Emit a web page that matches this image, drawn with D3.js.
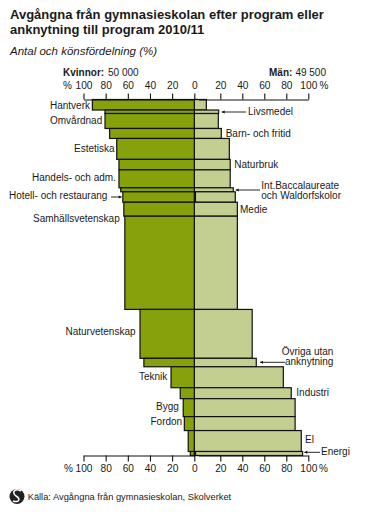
<!DOCTYPE html>
<html>
<head>
<meta charset="utf-8">
<script src="https://cdn.jsdelivr.net/npm/d3@7"></script>
<style>
  body { margin: 0; background: #fff; }
  svg { display: block; }
  text { font-family: "Liberation Sans", Arial, sans-serif; fill: #1a1a1a; }
</style>
</head>
<body>
<svg width="367" height="515"></svg>
<script>
var programs = ["Hantverk", "Livsmedel", "Omvårdnad", "Barn- och fritid", "Estetiska", "Naturbruk", "Handels- och adm.", "Int.Baccalaureate och Waldorfskolor", "Hotell- och restaurang", "Medie", "Samhällsvetenskap", "Naturvetenskap", "Övriga utan anknytning", "Teknik", "Industri", "Bygg", "Fordon", "El", "Energi"];
var counts = [2950, 980, 4190, 2800, 5870, 2930, 5030, 1120, 2930, 3910, 26130, 13700, 2370, 5870, 3070, 5030, 3910, 5870, 1120];
var women = [92, 80.6, 80.6, 76.4, 70, 68, 68, 66.4, 64.5, 63.6, 62.7, 49, 45.5, 21, 12.7, 10, 9, 5.5, 3.6];
var men = [7.3, 18.5, 18.2, 20.9, 28.2, 29, 29, 31.8, 33.6, 35.5, 35.5, 49, 52.7, 77.3, 84.5, 88, 88, 93.6, 94.8];
var tickLabels = [0, 20, 40, 60, 80, 100];

var svg = d3.select("svg");
var green = "#86a10c";
var lightGreen = "#c3cf90";
var ink = "#111";

var xLeft = d3.scaleLinear().domain([0, 100]).range([194.3, 83.5]);
var xRight = d3.scaleLinear().domain([0, 100]).range([198.3, 308.3]);
var yScale = d3.scaleLinear().domain([0, d3.sum(counts)]).range([99.5, 455.5]);

var rows = [];
var running = 0;
programs.forEach(function (p, i) {
  rows.push({ name: p, start: running, end: running + counts[i], w: women[i], m: men[i] });
  running += counts[i];
});

draw();

function draw() {
  title();
  bars();
  axes();
  labels();
  source();
}

function title() {
  svg.append("text").attr("x", 10).attr("y", 18.5).attr("font-size", 13).attr("font-weight", "bold").text("Avgångna från gymnasieskolan efter program eller");
  svg.append("text").attr("x", 10).attr("y", 34).attr("font-size", 13).attr("font-weight", "bold").text("anknytning till program 2010/11");
  svg.append("text").attr("x", 10).attr("y", 55).attr("font-size", 11.5).attr("font-style", "italic").text("Antal och könsfördelning (%)");
}

function bars() {
  svg.selectAll(".man").data(rows).enter().append("rect")
    .attr("class", "man")
    .attr("x", xLeft(0))
    .attr("y", function (d) { return yScale(d.start); })
    .attr("width", function (d) { return xRight(d.m) - xLeft(0); })
    .attr("height", function (d) { return yScale(d.end) - yScale(d.start); })
    .attr("fill", lightGreen).attr("stroke", ink).attr("stroke-width", 1.2);

  svg.selectAll(".woman").data(rows).enter().append("rect")
    .attr("class", "woman")
    .attr("x", function (d) { return xLeft(d.w); })
    .attr("y", function (d) { return yScale(d.start); })
    .attr("width", function (d) { return xLeft(0) - xLeft(d.w); })
    .attr("height", function (d) { return yScale(d.end) - yScale(d.start); })
    .attr("fill", green).attr("stroke", ink).attr("stroke-width", 1.2);

  // these two rows have a heavier centre line in the original
  var heavy = rows.filter(function (d) { return d.name == "Hotell- och restaurang" || d.name == "Energi"; });
  svg.selectAll(".heavy").data(heavy).enter().append("line")
    .attr("class", "heavy")
    .attr("x1", xLeft(0) + 1).attr("x2", xLeft(0) + 1)
    .attr("y1", function (d) { return yScale(d.start); })
    .attr("y2", function (d) { return yScale(d.end); })
    .attr("stroke", ink).attr("stroke-width", 1.5);
}

function axes() {
  var rightTicks = tickLabels.slice(1);
  addAxis(d3.axisTop(xLeft), tickLabels, 99.5, 89);
  addAxis(d3.axisTop(xRight), rightTicks, 99.5, 89);
  addAxis(d3.axisBottom(xLeft), tickLabels, 455.5, 472);
  addAxis(d3.axisBottom(xRight), rightTicks, 455.5, 472);

  function addAxis(axis, values, y, textY) {
    var g = svg.append("g").attr("transform", "translate(0," + y + ")")
      .call(axis.tickValues(values).tickSize(6).tickSizeOuter(0));
    g.selectAll("path.domain").attr("stroke", ink).attr("stroke-width", 1.2);
    g.selectAll("line").attr("stroke", ink).attr("stroke-width", 1.1);
    g.selectAll("text").attr("font-size", 10.2)
      .attr("y", textY - y).attr("dy", 0);
  }
  [99.5, 455.5].forEach(function (y) {
    svg.append("line").attr("x1", xLeft(0)).attr("x2", xRight(0)).attr("y1", y).attr("y2", y).attr("stroke", ink).attr("stroke-width", 1.2);
  });

  label(63, 76, "Kvinnor:", "start", "bold");
  label(108, 76, "50 000", "start");
  label(269, 76, "Män:", "start", "bold");
  label(326, 76, "49 500", "end");
  label(63, 89, "%", "start");
  label(328.5, 89, "%", "end");
  label(64, 472, "%", "start");
  label(328, 472, "%", "end");
}

function label(x, y, s, anchor, weight, size) {
  svg.append("text").attr("x", x).attr("y", y).attr("font-size", size || 10)
    .attr("text-anchor", anchor || "start").attr("font-weight", weight || "normal").text(s);
}

function labels() {
  label(50, 109, "Hantverk");
  label(50, 124, "Omvårdnad");
  label(74, 152, "Estetiska");
  label(32, 181, "Handels- och adm.");
  label(9, 199, "Hotell- och restaurang");
  label(33, 222, "Samhällsvetenskap");
  label(65.5, 335, "Naturvetenskap");
  label(139, 380, "Teknik");
  label(156, 410, "Bygg");
  label(150.5, 425, "Fordon");

  label(248, 115, "Livsmedel");
  label(225.7, 137, "Barn- och fritid");
  label(234.3, 168, "Naturbruk");
  label(261.3, 189, "Int.Baccalaureate");
  label(261.3, 199, "och Waldorfskolor");
  label(240, 213, "Medie");
  label(281.7, 355, "Övriga utan");
  label(285, 365.3, "anknytning");
  label(296.3, 396, "Industri");
  label(305, 443.3, "El");
  label(321, 455, "Energi");

  arrow(246, 221.7, 112);
  arrow(260, 235.7, 190);
  arrow(111, 121.7, 197);
  arrow(285, 260, 362.3);
  arrow(320, 304.3, 452.3);
}

function arrow(x1, x2, y) {
  svg.append("line").attr("x1", x1).attr("x2", x2).attr("y1", y).attr("y2", y).attr("stroke", ink).attr("stroke-width", 0.9);
  var dir = x2 > x1 ? -1 : 1;
  svg.append("path").attr("d", d3.line()([[x2, y], [x2 + dir * 3, y - 1.5], [x2 + dir * 3, y + 1.5]])).attr("fill", ink);
}

function source() {
  svg.append("circle").attr("cx", 17).attr("cy", 496.5).attr("r", 7.5).attr("fill", "#222");
  svg.append("path").attr("d", "M21 491 C15 488 11 492 16 496 C21 499 19 503 13 501").attr("fill", "none").attr("stroke", "#fff").attr("stroke-width", 1.5);
  label(27.7, 500, "Källa: Avgångna från gymnasieskolan, Skolverket", "start", "normal", 9.3);
}
</script>
</body>
</html>
